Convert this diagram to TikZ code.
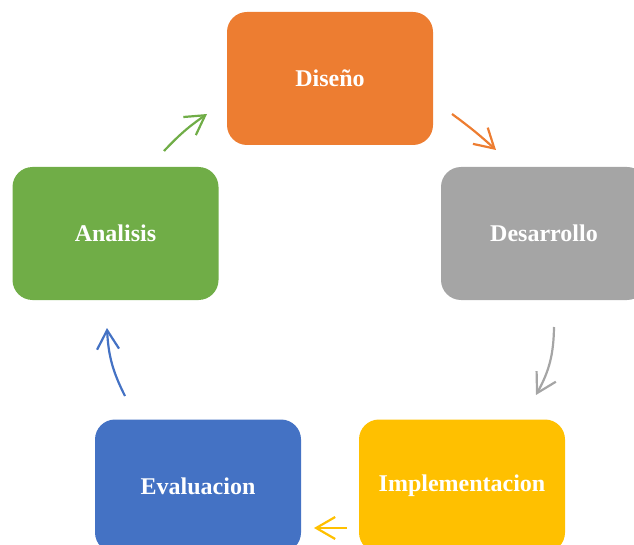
\documentclass[tikz,border=0pt]{standalone}
\usepackage{fontspec}
\setmainfont{Liberation Serif}
\usetikzlibrary{arrows.meta}

\definecolor{naranja}{HTML}{ED7D31}
\definecolor{gris}{HTML}{A5A5A5}
\definecolor{amarillo}{HTML}{FFC000}
\definecolor{azul}{HTML}{4472C4}
\definecolor{verde}{HTML}{70AD47}

\begin{document}
\begin{tikzpicture}[x=1pt,y=-1pt,
    fase/.style={rounded corners=20pt, minimum width=206pt, minimum height=133pt,
        inner sep=0pt, text=white, font=\bfseries\fontsize{24}{29}\selectfont},
    flecha/.style={line width=2.2pt, -{Straight Barb[length=19pt,width=22pt]}}]

        % Frame of the picture
        \useasboundingbox (0,0) rectangle (634,545);
        \clip (0,0) rectangle (634,545);

        % Draw the phases
        \node[fase, fill=naranja] (dis) at (330,78.5) {Diseño};
        \node[fase, fill=gris] (des) at (544,233.5) {Desarrollo};
        \node[fase, fill=amarillo] (imp) at (462,486) {Implementacion};
        \node[fase, fill=azul] (eva) at (198,486) {Evaluacion};
        \node[fase, fill=verde] (ana) at (115.5,233.5) {Analisis};

        % Ends of the arrows
        \foreach \name/\x/\y in {o1/452/114, o2/496/150, g1/554/327, g2/536/395,
                                 a1/347/528, a2/314/528, b1/125/396, b2/107/328,
                                 v1/164/151, v2/207/114} {
            \coordinate (\name) at (\x,\y);
        }

        % Add arrows between the phases
        \draw[flecha, naranja] (o1) to[bend left=3] (o2);
        \draw[flecha, gris] (g1) to[bend left=14] (g2);
        \draw[flecha, amarillo] (a1) -- (a2);
        \draw[flecha, azul] (b1) to[bend left=12] (b2);
        \draw[flecha, verde] (v1) to[bend left=6] (v2);
    \end{tikzpicture}
\end{document}
